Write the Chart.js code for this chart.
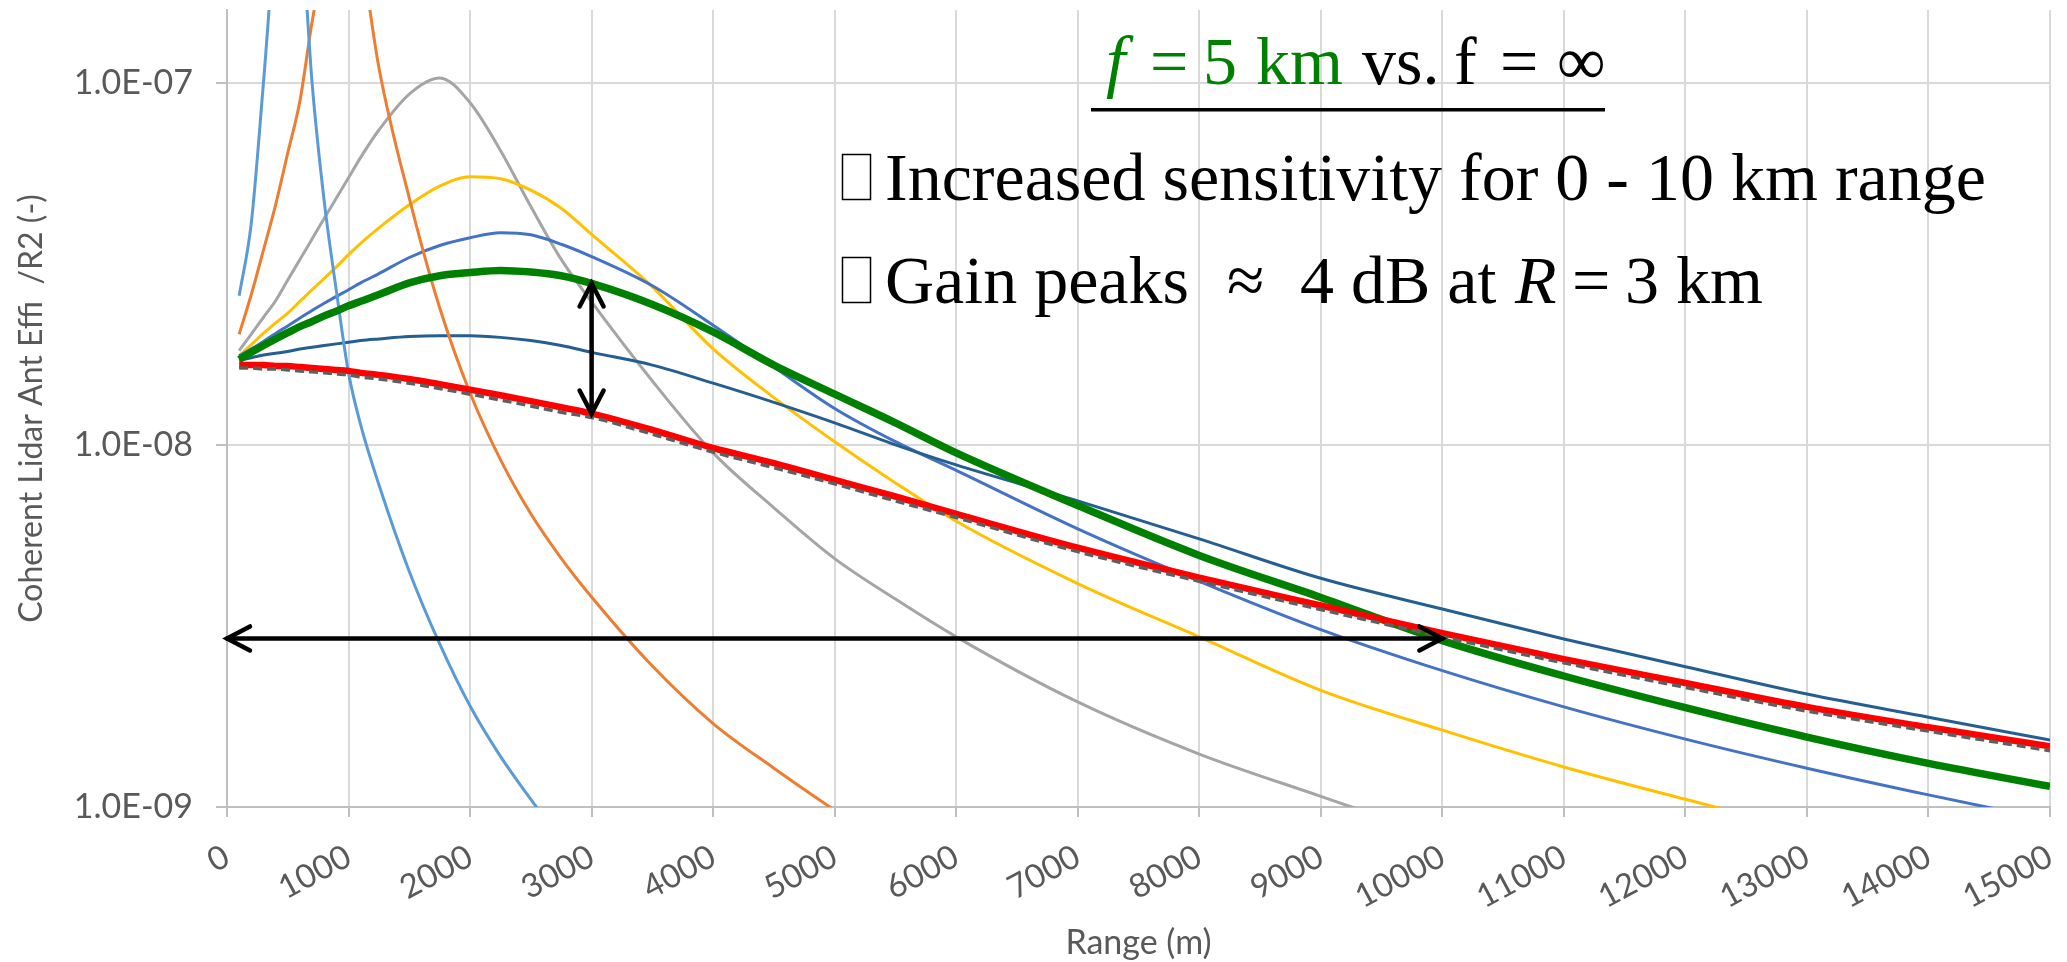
<!DOCTYPE html>
<html>
<head>
<meta charset="utf-8">
<script src="https://cdn.jsdelivr.net/npm/chart.js@4.4.0/dist/chart.umd.min.js"></script>
<style>
  html, body { margin: 0; padding: 0; background: #fff; }
  #wrap { width: 2067px; height: 962px; }
</style>
</head>
<body>
<div id="wrap"><canvas id="chart" width="2067" height="962"></canvas></div>
<script>
// range samples (m)
const rangeM = [100, 200, 300, 400, 500, 600, 700, 800, 900, 1000, 1100, 1250, 1500, 1750,
  2000, 2250, 2500, 2750, 3000, 3500, 4000, 4500, 5000, 5500, 6000, 7000, 8000, 9000,
  10000, 11000, 12000, 13000, 14000, 15000];

// antenna efficiency / R^2, one array per focus setting
const effLightBlue = [2.58e-8, 4.1e-8, 1.0e-7, 2.6e-7, 4.0e-7, 3.0e-7, 1.0e-7, 4.7e-8, 2.66e-8, 1.58e-8,
  1.135e-8, 7.76e-9, 4.47e-9, 2.82e-9, 1.9e-9, 1.38e-9, 1.05e-9, 8.1e-10];
const effOrange = [2.02e-8, 2.6e-8, 3.45e-8, 4.6e-8, 6.4e-8, 8.9e-8, 1.47e-7, 2.2e-7, 2.9e-7, 3.1e-7,
  2.3e-7, 1.1e-7, 4.8e-8, 2.39e-8, 1.39e-8, 9.1e-9, 6.45e-9, 4.86e-9, 3.8e-9, 2.45e-9,
  1.7e-9, 1.28e-9, 9.8e-10, 7.6e-10];
const effGray = [1.82e-8, 2.02e-8, 2.25e-8, 2.5e-8, 2.85e-8, 3.25e-8, 3.7e-8, 4.22e-8, 4.8e-8, 5.46e-8,
  6.22e-8, 7.4e-8, 9.3e-8, 1.03e-7, 8.8e-8, 6.5e-8, 4.55e-8, 3.25e-8, 2.48e-8, 1.5e-8,
  9.5e-9, 6.7e-9, 4.85e-9, 3.75e-9, 2.95e-9, 1.95e-9, 1.4e-9, 1.07e-9, 8.2e-10];
const effYellow = [1.76e-8, 1.89e-8, 2.03e-8, 2.17e-8, 2.31e-8, 2.49e-8, 2.68e-8, 2.88e-8, 3.1e-8, 3.35e-8,
  3.6e-8, 3.97e-8, 4.6e-8, 5.18e-8, 5.5e-8, 5.43e-8, 5.05e-8, 4.5e-8, 3.81e-8, 2.73e-8,
  1.84e-8, 1.35e-8, 1.02e-8, 7.85e-9, 6.15e-9, 4.14e-9, 2.95e-9, 2.1e-9, 1.63e-9, 1.29e-9,
  1.05e-9, 8.6e-10];
const effBlue = [1.76e-8, 1.84e-8, 1.93e-8, 2.03e-8, 2.13e-8, 2.24e-8, 2.35e-8, 2.46e-8, 2.57e-8, 2.68e-8,
  2.8e-8, 2.97e-8, 3.29e-8, 3.55e-8, 3.73e-8, 3.85e-8, 3.8e-8, 3.58e-8, 3.31e-8, 2.75e-8,
  2.14e-8, 1.64e-8, 1.26e-8, 1.02e-8, 8.5e-9, 5.86e-9, 4.2e-9, 3.09e-9, 2.38e-9, 1.89e-9,
  1.54e-9, 1.28e-9, 1.08e-9, 9.2e-10];
const effGreen = [1.72e-8, 1.8e-8, 1.88e-8, 1.96e-8, 2.04e-8, 2.12e-8, 2.19e-8, 2.27e-8, 2.34e-8, 2.42e-8,
  2.49e-8, 2.6e-8, 2.8e-8, 2.93e-8, 2.99e-8, 3.03e-8, 3.0e-8, 2.93e-8, 2.79e-8, 2.44e-8,
  2.05e-8, 1.66e-8, 1.38e-8, 1.15e-8, 9.5e-9, 6.8e-9, 4.95e-9, 3.79e-9, 2.88e-9, 2.3e-9,
  1.88e-9, 1.56e-9, 1.32e-9, 1.14e-9];
const effDarkBlue = [1.71e-8, 1.74e-8, 1.77e-8, 1.79e-8, 1.81e-8, 1.84e-8, 1.86e-8, 1.88e-8, 1.9e-8, 1.92e-8,
  1.94e-8, 1.96e-8, 1.99e-8, 2.0e-8, 2.0e-8, 1.98e-8, 1.94e-8, 1.88e-8, 1.8e-8, 1.66e-8,
  1.48e-8, 1.31e-8, 1.15e-8, 1.0e-8, 8.8e-9, 7.0e-9, 5.5e-9, 4.28e-9, 3.52e-9, 2.91e-9,
  2.44e-9, 2.05e-9, 1.77e-9, 1.53e-9];
const effRed = [1.66e-8, 1.66e-8, 1.66e-8, 1.65e-8, 1.65e-8, 1.64e-8, 1.63e-8, 1.62e-8, 1.61e-8, 1.6e-8,
  1.58e-8, 1.56e-8, 1.52e-8, 1.47e-8, 1.42e-8, 1.37e-8, 1.32e-8, 1.27e-8, 1.22e-8, 1.1e-8,
  9.8e-9, 8.9e-9, 8.0e-9, 7.2e-9, 6.45e-9, 5.2e-9, 4.3e-9, 3.6e-9, 3.02e-9, 2.56e-9,
  2.2e-9, 1.89e-9, 1.66e-9, 1.47e-9];
const effDashed = [1.63e-8, 1.63e-8, 1.62e-8, 1.62e-8, 1.61e-8, 1.6e-8, 1.59e-8, 1.58e-8, 1.57e-8, 1.56e-8,
  1.54e-8, 1.52e-8, 1.48e-8, 1.43e-8, 1.38e-8, 1.33e-8, 1.28e-8, 1.23e-8, 1.19e-8, 1.07e-8,
  9.55e-9, 8.65e-9, 7.8e-9, 7.0e-9, 6.3e-9, 5.07e-9, 4.2e-9, 3.51e-9, 2.95e-9, 2.5e-9,
  2.14e-9, 1.84e-9, 1.62e-9, 1.43e-9];

const yTicks = [1e-9, 1e-8, 1e-7];

// arrows in data units
const gainArrow = { x: 3000, from: 1.22e-8, to: 2.79e-8 };
const spanArrow = { y: 2.92e-9, from: 0, to: 10000 };

function toPoints(ys) {
  return ys.map((y, i) => ({ x: rangeM[i], y: y }));
}

function sci(v) {
  const e = Math.round(Math.log10(v));
  const m = v / Math.pow(10, e);
  return m.toFixed(1) + "E" + (e < 0 ? "-" : "+") + String(Math.abs(e)).padStart(2, "0");
}

function line(data, color, width, order, dash) {
  return {
    data: toPoints(data),
    borderColor: color,
    borderWidth: width,
    borderDash: dash || [],
    pointRadius: 0,
    fill: false,
    cubicInterpolationMode: "monotone",
    clip: 0,
    order: order,
  };
}

function arrowHead(ctx, x, y, dx, dy) {
  const len = 23, half = 12;
  const bx = x - dx * len, by = y - dy * len;
  ctx.beginPath();
  ctx.moveTo(bx - dy * half, by + dx * half);
  ctx.lineTo(x, y);
  ctx.lineTo(bx + dy * half, by - dx * half);
  ctx.stroke();
}

const arrowPlugin = {
  id: "arrows",
  afterDatasetsDraw(chart) {
    const { ctx, scales } = chart;
    const xs = scales.x, ys = scales.y;
    ctx.save();
    ctx.strokeStyle = "#000";
    ctx.lineWidth = 4.5;
    ctx.lineCap = "round";
    ctx.lineJoin = "miter";

    const gx = xs.getPixelForValue(gainArrow.x);
    const gy1 = ys.getPixelForValue(gainArrow.from);
    const gy2 = ys.getPixelForValue(gainArrow.to);
    ctx.beginPath();
    ctx.moveTo(gx, gy1);
    ctx.lineTo(gx, gy2);
    ctx.stroke();
    arrowHead(ctx, gx, gy2, 0, -1);
    arrowHead(ctx, gx, gy1, 0, 1);

    const sy = ys.getPixelForValue(spanArrow.y);
    const sx1 = xs.getPixelForValue(spanArrow.from);
    const sx2 = xs.getPixelForValue(spanArrow.to);
    ctx.beginPath();
    ctx.moveTo(sx1, sy);
    ctx.lineTo(sx2, sy);
    ctx.stroke();
    arrowHead(ctx, sx1, sy, -1, 0);
    arrowHead(ctx, sx2, sy, 1, 0);
    ctx.restore();
  },
};

// text boxes on the plot
const notePlugin = {
  id: "notes",
  afterDraw(chart) {
    const ctx = chart.ctx;
    const serif = "\"Liberation Serif\", \"Times New Roman\", serif";
    const green = "#008000";
    ctx.save();
    ctx.textBaseline = "alphabetic";
    ctx.textAlign = "left";

    const put = (txt, x, y, size, color, italic) => {
      ctx.font = (italic ? "italic " : "") + size + "px " + serif;
      ctx.fillStyle = color;
      ctx.fillText(txt, x, y);
    };

    // heading
    put("f", 1106, 84, 70, green, true);
    put("=", 1150, 84, 68, green);
    put("5", 1203, 84, 68, green);
    put("km", 1256, 84, 68, green);
    put("vs.", 1362, 84, 68, "#000");
    put("f", 1454, 84, 68, "#000");
    put("=", 1500, 84, 68, "#000");
    put("\u221E", 1557, 84, 68, "#000");
    ctx.fillStyle = "#000";
    ctx.fillRect(1091, 108, 514, 3.5);

    // bullet boxes (missing glyphs)
    ctx.strokeStyle = "#000";
    ctx.lineWidth = 1.5;
    ctx.strokeRect(842.5, 154.5, 28, 45);
    ctx.strokeRect(842.5, 257.5, 28, 45);

    put("Increased sensitivity for 0 - 10 km range", 885, 200, 68, "#000");

    put("Gain peaks", 885, 303, 68, "#000");
    put("\u2248", 1227, 303, 68, "#000");
    put("4 dB at", 1300, 303, 68, "#000");
    put("R", 1515, 303, 68, "#000", true);
    put("=", 1572, 303, 68, "#000");
    put("3 km", 1625, 303, 68, "#000");
    ctx.restore();
  },
};

const labelFont = { family: "Lato", size: 34 };
const gridColor = "#D9D9D9";
const axisColor = "#BFBFBF";

new Chart(document.getElementById("chart"), {
  type: "line",
  data: {
    datasets: [
      line(effDashed, "#5F5F5F", 3.5, 0, [9, 5]),
      line(effRed, "#FF0000", 6.5, 1),
      line(effGreen, "#008000", 7.5, 2),
      line(effLightBlue, "#5B9BD5", 3, 3),
      line(effOrange, "#ED7D31", 3, 4),
      line(effDarkBlue, "#255E91", 3, 5),
      line(effBlue, "#4472C4", 3, 6),
      line(effYellow, "#FFC000", 3, 7),
      line(effGray, "#A5A5A5", 3, 8),
    ],
  },
  options: {
    responsive: false,
    animation: false,
    devicePixelRatio: 1,
    layout: { padding: { top: 10, right: 17, left: 0, bottom: 0 } },
    plugins: {
      legend: { display: false },
      tooltip: { enabled: false },
    },
    scales: {
      x: {
        type: "linear",
        min: 0,
        max: 15000,
        ticks: {
          stepSize: 1000,
          autoSkip: false,
          minRotation: 28,
          maxRotation: 28,
          padding: 20,
          color: "#595959",
          font: { family: "Lato", size: 33 },
          callback: (v) => String(v),
        },
        grid: {
          color: gridColor,
          lineWidth: 2,
          tickLength: 10,
          tickColor: axisColor,
        },
        border: { color: axisColor, width: 2 },
        title: {
          display: true,
          text: "Range (m)",
          color: "#595959",
          font: { family: "Lato", size: 34, lineHeight: 1 },
          padding: { top: 0, bottom: 2 },
        },
        afterFit(scale) {
          scale.height = 155;
          scale.paddingLeft = 0;
          scale.paddingRight = 0;
        },
      },
      y: {
        type: "logarithmic",
        min: 1e-9,
        max: 1.587e-7,
        afterBuildTicks(scale) {
          scale.ticks = yTicks.map((v) => ({ value: v }));
        },
        ticks: {
          color: "#595959",
          font: labelFont,
          padding: 23,
          callback: (v) => sci(v),
        },
        grid: {
          color: gridColor,
          lineWidth: 2,
          tickLength: 11,
          tickColor: axisColor,
        },
        border: { color: axisColor, width: 2 },
        title: {
          display: true,
          text: "Coherent Lidar Ant Effi  /R2 (-)",
          color: "#595959",
          font: { family: "Lato", size: 32, lineHeight: 1.2 },
          padding: { top: 12, bottom: 0 },
        },
        afterFit(scale) {
          scale.width = 227;
          scale.paddingTop = 0;
          scale.paddingBottom = 0;
        },
      },
    },
  },
  plugins: [arrowPlugin, notePlugin],
});
</script>
</body>
</html>
